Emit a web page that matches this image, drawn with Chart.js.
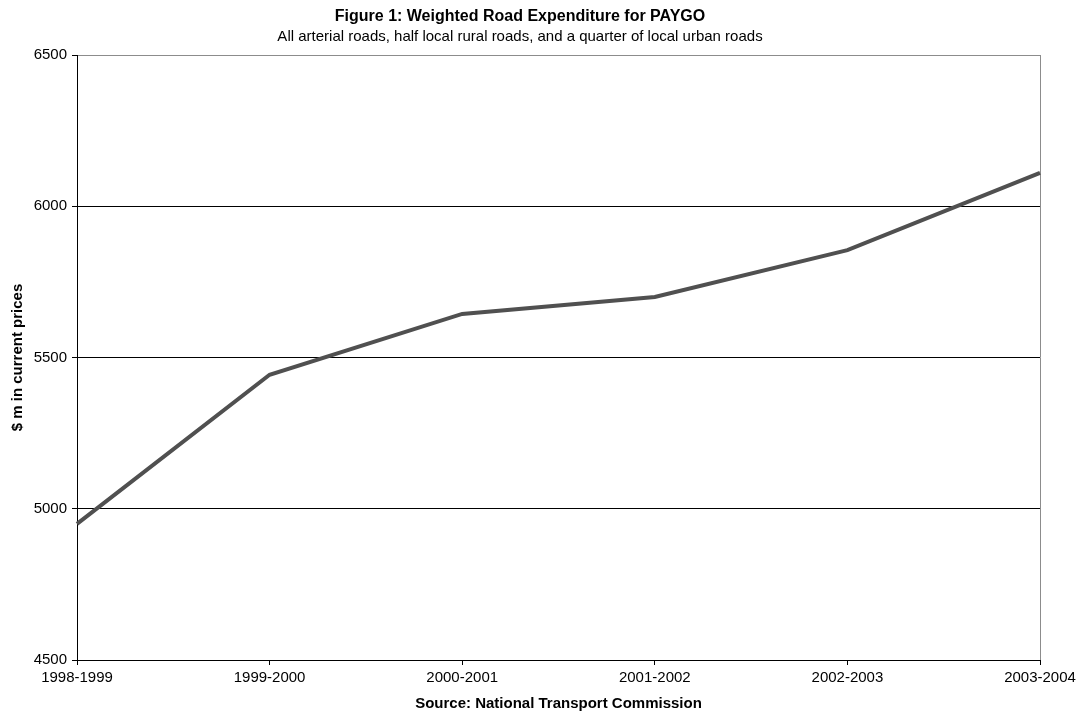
<!DOCTYPE html>
<html>
<head>
<meta charset="utf-8">
<title>Weighted Road Expenditure for PAYGO</title>
<script src="https://cdn.jsdelivr.net/npm/chart.js@4/dist/chart.umd.min.js"></script>
<style>
  html, body { margin: 0; padding: 0; background: #ffffff; }
  #wrap { width: 1080px; height: 715px; position: relative; }
</style>
</head>
<body>
<div id="wrap"><canvas id="chart" width="1080" height="715"></canvas></div>
<script>
// Financial years on the x axis
const years = ['1998-1999', '1999-2000', '2000-2001', '2001-2002', '2002-2003', '2003-2004'];
// Weighted road expenditure, $ m in current prices
const expenditure = [4950, 5443, 5644, 5700, 5855, 6110];
// Value axis range and step
const yMin = 4500;
const yMax = 6500;
const yStep = 500;

const FONT = "'Liberation Sans', Arial, Helvetica, sans-serif";

new Chart(document.getElementById('chart'), {
  type: 'line',
  data: {
    labels: years,
    datasets: [{
      label: 'Weighted road expenditure',
      data: expenditure,
      borderColor: '#505050',
      backgroundColor: '#505050',
      borderWidth: 4,
      pointRadius: 0,
      pointHoverRadius: 0,
      tension: 0,
      fill: false
    }]
  },
  options: {
    responsive: false,
    animation: false,
    devicePixelRatio: 1,
    layout: { padding: { left: 0, right: 40, top: 0, bottom: 0 } },
    plugins: {
      legend: { display: false },
      tooltip: { enabled: false },
      title: {
        display: true,
        text: 'Figure 1: Weighted Road Expenditure for PAYGO',
        color: '#000',
        font: { family: FONT, size: 16, weight: 'bold', lineHeight: 1.2 },
        padding: { top: 6.6, bottom: 1.7 }
      },
      subtitle: {
        display: true,
        text: 'All arterial roads, half local rural roads, and a quarter of local urban roads',
        color: '#000',
        font: { family: FONT, size: 15, weight: 'normal', lineHeight: 1.2 },
        padding: { top: 0, bottom: 9.5 }
      }
    },
    scales: {
      x: {
        type: 'category',
        offset: false,
        border: { display: true, color: '#000', width: 1 },
        grid: {
          drawOnChartArea: true,
          // only the right-hand frame edge is drawn as a vertical line
          color: (ctx) => (ctx.index === years.length - 1 ? '#8c8c8c' : 'rgba(0,0,0,0)'),
          tickColor: '#000',
          tickLength: 5,
          lineWidth: 1
        },
        ticks: {
          color: '#000',
          font: { family: FONT, size: 15 },
          padding: 4,
          maxRotation: 0,
          autoSkip: false
        },
        title: {
          display: true,
          text: 'Source: National Transport Commission',
          color: '#000',
          font: { family: FONT, size: 15, weight: 'bold', lineHeight: 1.2 },
          padding: { top: 0, bottom: 2 }
        },
        afterFit: (scale) => { scale.height = 55; }
      },
      y: {
        min: yMin,
        max: yMax,
        border: { display: true, color: '#000', width: 1 },
        grid: {
          // top frame edge in grey, inner gridlines in black
          color: (ctx) => (ctx.tick && ctx.tick.value === yMax ? '#8c8c8c' : '#000'),
          tickColor: '#000',
          tickLength: 5,
          lineWidth: 1
        },
        ticks: {
          stepSize: yStep,
          color: '#000',
          font: { family: FONT, size: 15 },
          padding: 5,
          callback: (value) => String(value)
        },
        title: {
          display: true,
          text: '$ m in current prices',
          color: '#000',
          font: { family: FONT, size: 15, weight: 'bold', lineHeight: 1.2 },
          padding: { top: 9, bottom: 0 }
        },
        afterFit: (scale) => { scale.width = 77; }
      }
    }
  }
});
</script>
</body>
</html>
